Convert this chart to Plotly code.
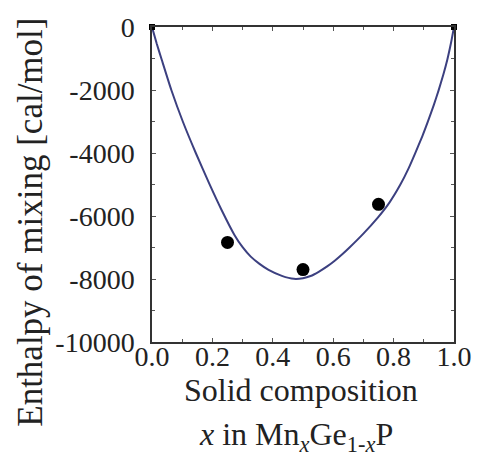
import plotly.graph_objects as go

# Model curve
curve_x = [0.0, 0.016, 0.032, 0.064, 0.102, 0.145, 0.19, 0.23, 0.273, 0.30, 0.327, 0.356, 0.386, 0.43, 0.47,
           0.50, 0.525, 0.552, 0.58, 0.605, 0.63, 0.654, 0.70, 0.747, 0.785, 0.822, 0.85, 0.871, 0.895,
           0.914, 0.933, 0.949, 0.965, 0.978, 0.99, 1.0]
curve_y = [0, -540, -1030, -2000, -3000, -4000, -4980, -5800, -6600, -6990, -7290, -7520, -7710, -7900, -7995,
           -7975, -7905, -7770, -7600, -7420, -7215, -7000, -6560, -6060, -5590, -5010, -4480, -4020, -3470,
           -2990, -2480, -2010, -1500, -1030, -510, 0]

# Experimental points
exp_x = [0.25, 0.5, 0.75]
exp_y = [-6840, -7700, -5630]

# End members
end_x = [0.0, 1.0]
end_y = [0, 0]

x_ticks = [0.0, 0.2, 0.4, 0.6, 0.8, 1.0]
x_tick_labels = ["0.0", "0.2", "0.4", "0.6", "0.8", "1.0"]
y_ticks = [0, -2000, -4000, -6000, -8000, -10000]
y_tick_labels = ["0", "-2000", "-4000", "-6000", "-8000", "-10000"]

FONT = "Liberation Serif"
W, H = 484, 468
L, R, T, B = 152, 22, 23, 126
PW, PH = W - L - R, H - T - B

fig = go.Figure()
fig.add_trace(go.Scatter(x=curve_x, y=curve_y, mode="lines",
                         line=dict(color="#3c4080", width=2, shape="spline", smoothing=0.5),
                         showlegend=False, hoverinfo="skip"))
fig.add_trace(go.Scatter(x=exp_x, y=exp_y, mode="markers",
                         marker=dict(color="black", size=13, symbol="circle"),
                         showlegend=False))
fig.add_trace(go.Scatter(x=end_x, y=end_y, mode="markers",
                         marker=dict(color="black", size=6, symbol="square"),
                         showlegend=False, cliponaxis=False))

axis_common = dict(showline=True, linecolor="#333333", linewidth=1.5, mirror="ticks",
                   ticks="inside", ticklen=4, tickcolor="#555555", tickwidth=1,
                   showgrid=False, zeroline=False,
                   tickfont=dict(family=FONT, size=28, color="#222222"))

fig.update_xaxes(range=[0, 1], tickvals=x_ticks, ticktext=x_tick_labels,
                 minor=dict(dtick=0.1, ticks="inside", ticklen=3, tickcolor="#555555"),
                 ticklabelstandoff=-11, **axis_common)
fig.update_yaxes(range=[-10000, 0], tickvals=y_ticks, ticktext=y_tick_labels,
                 minor=dict(dtick=1000, ticks="inside", ticklen=3, tickcolor="#555555"),
                 ticklabelstandoff=10, **axis_common)

def px_to_paper_x(px):
    return (px - L) / PW

def px_to_paper_y(py):
    return 1 - (py - T) / PH

fig.add_annotation(text="Solid composition", xref="paper", yref="paper",
                   x=px_to_paper_x(305), y=px_to_paper_y(391), showarrow=False,
                   xanchor="center", yanchor="middle",
                   font=dict(family=FONT, size=32, color="#222222"))
fig.add_annotation(text="<i>x</i> in Mn<sub><i>x</i></sub>Ge<sub>1-<i>x</i></sub>P", xref="paper", yref="paper",
                   x=px_to_paper_x(300), y=px_to_paper_y(438), showarrow=False,
                   xanchor="center", yanchor="middle",
                   font=dict(family=FONT, size=32, color="#222222"))
fig.add_annotation(text="Enthalpy of mixing [cal/mol]", xref="paper", yref="paper",
                   x=px_to_paper_x(27), y=px_to_paper_y(221), showarrow=False,
                   textangle=-90, xanchor="center", yanchor="middle",
                   font=dict(family=FONT, size=35, color="#222222"))

fig.update_layout(width=W, height=H, margin=dict(l=L, r=R, t=T, b=B),
                  plot_bgcolor="white", paper_bgcolor="white")

fig.write_html("out.html")
